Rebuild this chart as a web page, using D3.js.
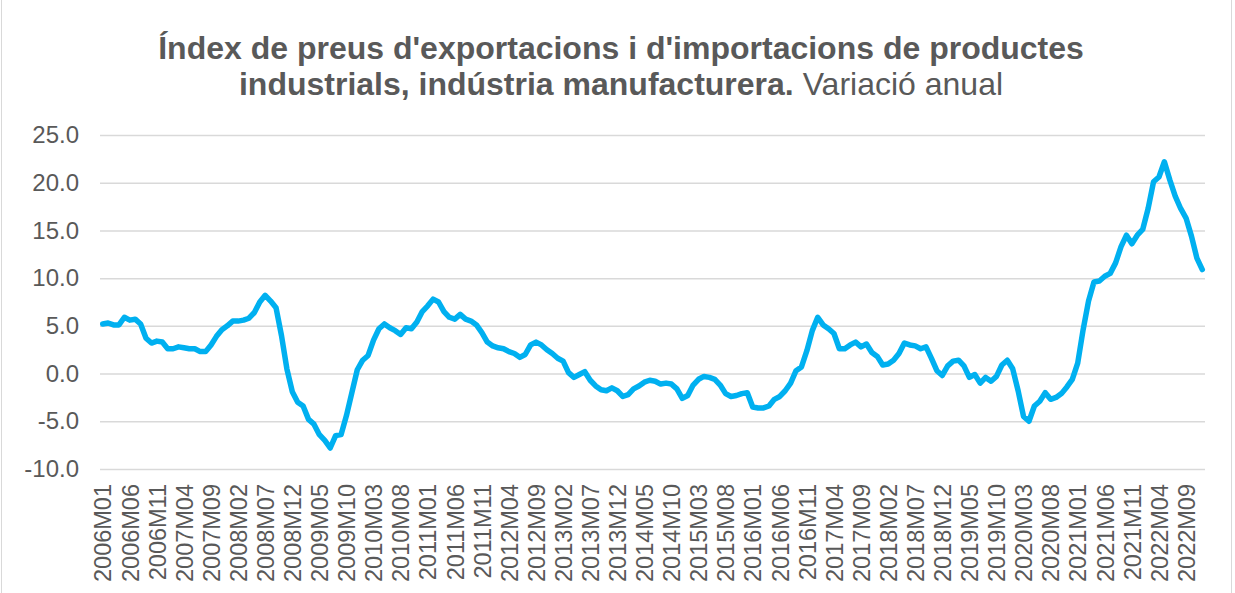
<!DOCTYPE html>
<html>
<head>
<meta charset="utf-8">
<script src="https://cdn.jsdelivr.net/npm/d3@7"></script>
<style>
  html, body { margin: 0; padding: 0; background: #fff; }
  svg { display: block; }
</style>
</head>
<body>
<svg id="chart" width="1235" height="593"></svg>
<script>
// ---- data ----
const years = d3.range(2006, 2023);
const months = ["01","02","03","04","05","06","07","08","09","10","11","12"];
const categories = years.flatMap(y => months.map(m => `${y}M${m}`));

const values = [
  5.2, 5.3, 5.1, 5.1, 5.9, 5.6, 5.7, 5.2, 3.7, 3.2, 3.4, 3.3,      // 2006
  2.6, 2.6, 2.8, 2.7, 2.6, 2.6, 2.3, 2.3, 3.0, 3.9, 4.6, 5.0,      // 2007
  5.5, 5.5, 5.6, 5.8, 6.4, 7.5, 8.2, 7.6, 6.9, 4.0, 0.5, -1.9,     // 2008
  -3.0, -3.4, -4.8, -5.3, -6.4, -7.0, -7.8, -6.5, -6.4, -4.4, -2.0, 0.4, // 2009
  1.4, 1.9, 3.5, 4.7, 5.2, 4.8, 4.5, 4.1, 4.8, 4.7, 5.4, 6.5,      // 2010
  7.1, 7.8, 7.5, 6.5, 5.9, 5.7, 6.2, 5.7, 5.5, 5.1, 4.3, 3.3,      // 2011
  2.9, 2.7, 2.6, 2.3, 2.1, 1.7, 2.0, 3.0, 3.3, 3.0, 2.5, 2.1,      // 2012
  1.6, 1.3, 0.1, -0.4, -0.1, 0.2, -0.7, -1.3, -1.7, -1.8, -1.5, -1.8, // 2013
  -2.4, -2.2, -1.6, -1.3, -0.9, -0.7, -0.8, -1.1, -1.0, -1.1, -1.6, -2.6, // 2014
  -2.3, -1.2, -0.6, -0.3, -0.4, -0.6, -1.2, -2.1, -2.4, -2.3, -2.1, -2.0, // 2015
  -3.5, -3.6, -3.6, -3.4, -2.7, -2.4, -1.8, -1.0, 0.3, 0.7, 2.4, 4.5, // 2016
  5.9, 5.1, 4.7, 4.2, 2.6, 2.6, 3.0, 3.3, 2.8, 3.1, 2.2, 1.8,      // 2017
  0.9, 1.0, 1.4, 2.1, 3.2, 3.0, 2.9, 2.6, 2.8, 1.6, 0.3, -0.2,     // 2018
  0.8, 1.3, 1.4, 0.8, -0.4, -0.1, -1.0, -0.4, -0.8, -0.3, 0.9, 1.4, // 2019
  0.5, -1.8, -4.5, -5.0, -3.4, -2.9, -2.0, -2.7, -2.5, -2.1, -1.4, -0.6, // 2020
  1.1, 4.6, 7.6, 9.6, 9.7, 10.2, 10.5, 11.6, 13.3, 14.5, 13.6, 14.5, // 2021
  15.1, 17.3, 20.1, 20.6, 22.2, 20.3, 18.6, 17.3, 16.3, 14.4, 12.1, 10.9 // 2022
];

const tickLabels = [
  "2006M01","2006M06","2006M11","2007M04","2007M09","2008M02","2008M07","2008M12",
  "2009M05","2009M10","2010M03","2010M08","2011M01","2011M06","2011M11","2012M04",
  "2012M09","2013M02","2013M07","2013M12","2014M05","2014M10","2015M03","2015M08",
  "2016M01","2016M06","2016M11","2017M04","2017M09","2018M02","2018M07","2018M12",
  "2019M05","2019M10","2020M03","2020M08","2021M01","2021M06","2021M11","2022M04","2022M09"
];
const yTicks = [-10, -5, 0, 5, 10, 15, 20, 25];

const titleLine1 = "Índex de preus d'exportacions i d'importacions de productes";
const titleLine2Bold = "industrials, indústria manufacturera.";
const titleLine2Normal = " Variació anual";

// ---- layout ----
const svg = d3.select("#chart");
const W = 1235, H = 593;
const plot = { left: 100, right: 1205, top: 135, bottom: 469 };
const font = "'Liberation Sans', Arial, sans-serif";
const textColor = "#595959";
const fmt = d => d.toFixed(1); // hyphen-minus like the original

svg.append("rect")
  .attr("x", 1.5).attr("y", -2).attr("width", 1230).attr("height", H + 10)
  .attr("fill", "#fff").attr("stroke", "#d9d9d9").attr("stroke-width", 1);

const x = d3.scalePoint().domain(categories).range([plot.left, plot.right]).padding(0.5);
const y = d3.scaleLinear().domain([-10, 25]).range([plot.bottom, plot.top]);

// gridlines + y labels
const yAxis = d3.axisLeft(y).tickValues(yTicks).tickSize(-(plot.right - plot.left))
  .tickPadding(21).tickFormat(fmt);
const gy = svg.append("g").attr("transform", `translate(${plot.left},0)`).call(yAxis);
gy.select(".domain").remove();
gy.selectAll(".tick line").attr("stroke", "#d9d9d9").attr("stroke-width", 1.5);
gy.selectAll(".tick text")
  .attr("fill", textColor).attr("font-family", font).attr("font-size", 24);

// x axis labels
const xAxis = d3.axisBottom(x).tickValues(tickLabels).tickSize(0).tickPadding(0);
const gx = svg.append("g").attr("transform", `translate(0,${plot.bottom})`).call(xAxis);
gx.select(".domain").remove();
gx.selectAll(".tick text")
  .attr("fill", textColor).attr("font-family", font).attr("font-size", 23.5)
  .attr("text-anchor", "end")
  .attr("transform", "rotate(-90)")
  .attr("x", -15).attr("y", 0).attr("dy", "0.35em");

// line
const line = d3.line()
  .x((d, i) => x(categories[i]))
  .y(d => y(d));
svg.append("path")
  .datum(values)
  .attr("d", line)
  .attr("fill", "none")
  .attr("stroke", "#00B0F0")
  .attr("stroke-width", 5.5)
  .attr("stroke-linejoin", "round")
  .attr("stroke-linecap", "round");

// title
svg.append("text")
  .attr("x", 621).attr("y", 59)
  .attr("text-anchor", "middle")
  .attr("font-family", font).attr("font-size", 32).attr("fill", textColor)
  .attr("font-weight", "bold")
  .text(titleLine1);
const t2 = svg.append("text")
  .attr("x", 621).attr("y", 95)
  .attr("text-anchor", "middle")
  .attr("font-family", font).attr("font-size", 32).attr("fill", textColor);
t2.append("tspan").attr("font-weight", "bold").text(titleLine2Bold);
t2.append("tspan").attr("font-weight", "normal").text(titleLine2Normal);
</script>
</body>
</html>
